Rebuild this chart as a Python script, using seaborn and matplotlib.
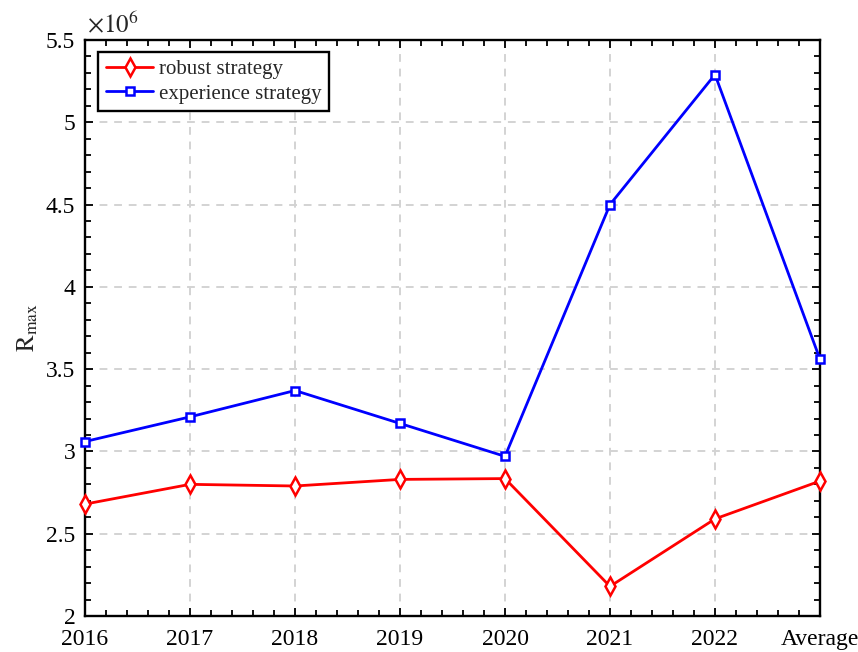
import numpy as np
import pandas as pd
import matplotlib
matplotlib.use("Agg")
import matplotlib.pyplot as plt
from matplotlib.ticker import MultipleLocator, FuncFormatter
import seaborn as sns

# Category labels along the x axis
categories = ["2016", "2017", "2018", "2019", "2020", "2021", "2022", "Average"]
# Maximum regret R_max for each strategy
robust = [2.68e6, 2.80e6, 2.79e6, 2.83e6, 2.835e6, 2.18e6, 2.59e6, 2.82e6]
experience = [3.06e6, 3.21e6, 3.37e6, 3.17e6, 2.97e6, 4.50e6, 5.29e6, 3.56e6]
series_names = ["robust strategy", "experience strategy"]
y_ticks = [2.0e6, 2.5e6, 3.0e6, 3.5e6, 4.0e6, 4.5e6, 5.0e6, 5.5e6]

sns.set_theme(style="ticks")
plt.rcParams["font.family"] = ["Liberation Serif", "DejaVu Serif"]
plt.rcParams["mathtext.fontset"] = "stix"

fig = plt.figure(figsize=(8.58, 6.52), dpi=100)
ax = fig.add_axes([0.0991, 0.0552, 0.8566, 0.8835])

pos = np.arange(len(categories))
df = pd.DataFrame({"pos": pos, "robust": robust, "experience": experience})

sns.lineplot(data=df, x="pos", y="robust", ax=ax, color="#ff0000", lw=2.0,
             marker="d", markersize=9, markerfacecolor="white",
             markeredgecolor="#ff0000", markeredgewidth=1.8,
             label=series_names[0], zorder=3, clip_on=False)
sns.lineplot(data=df, x="pos", y="experience", ax=ax, color="#0000ff", lw=2.0,
             marker="s", markersize=5.5, markerfacecolor="white",
             markeredgecolor="#0000ff", markeredgewidth=1.8,
             label=series_names[1], zorder=3, clip_on=False)

ax.set_xlim(0, len(categories) - 1)
ax.set_ylim(y_ticks[0], y_ticks[-1])
ax.set_xticks(pos)
ax.set_xticklabels(categories)
ax.set_yticks(y_ticks)
ax.yaxis.set_major_formatter(FuncFormatter(lambda v, p: f"{v/1e6:g}"))
ax.xaxis.set_minor_locator(MultipleLocator(0.2))
ax.yaxis.set_minor_locator(MultipleLocator(0.1e6))

ax.tick_params(which="both", direction="in", top=True, right=True,
               labelsize=17, colors="black", width=1.3)
ax.tick_params(which="major", length=6)
ax.tick_params(which="minor", length=4)
ax.tick_params(axis="x", which="major", pad=9)
ax.tick_params(axis="y", which="major", pad=7)
for s in ax.spines.values():
    s.set_linewidth(1.7)
    s.set_color("black")

ax.grid(True, which="major", linestyle=(0, (4, 3.5)), color="#d3d3d3", lw=1.4)
ax.set_axisbelow(True)

ax.set_xlabel("")
ax.set_ylabel(r"$\mathrm{R_{max}}$", fontsize=18, labelpad=4)
ax.text(0.003, 1.005, r"$\times 10^{6}$", transform=ax.transAxes,
        fontsize=18, ha="left", va="bottom")

leg = ax.legend(loc="upper left", fontsize=15, frameon=True, fancybox=False,
                borderpad=0.35, labelspacing=0.25, handlelength=2.3,
                handletextpad=0.25, borderaxespad=0,
                bbox_to_anchor=(0.018, 0.979))
leg.get_frame().set_edgecolor("black")
leg.get_frame().set_linewidth(1.7)
leg.get_frame().set_alpha(1)

fig.savefig("out.png", dpi=100)
